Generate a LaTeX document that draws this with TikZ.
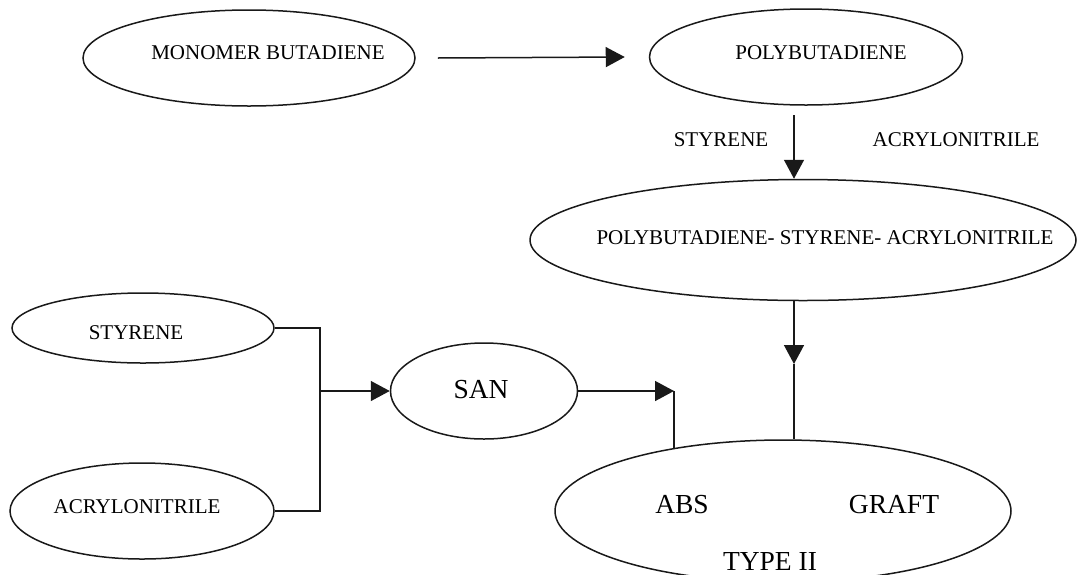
\documentclass[tikz,border=0pt]{standalone}
\usepackage{fontspec}
\setmainfont{Liberation Serif}
\usetikzlibrary{arrows.meta, shapes.geometric}
\colorlet{Cline}{black!90}
\tikzset{
  blob/.style={draw=Cline, ellipse, line width=1.5pt, inner sep=0pt},
  tag/.style={font=\fontsize{21}{24}\selectfont, inner sep=0pt},
  bigtag/.style={font=\fontsize{27.5}{30}\selectfont, inner sep=0pt},
  arr/.style={-{Triangle[length=19pt, width=20pt]}, line width=1.5pt, Cline},
  wire/.style={line width=1.5pt, Cline},
}

\begin{document}
\begin{tikzpicture}[x=1pt, y=-1pt]
\useasboundingbox (0,0) rectangle (1078,574);

%%==========================================================================
%% TOP ROW — butadiene to the graft rubber
%%==========================================================================

\node[blob, minimum width=332pt, minimum height=96pt] (mono) at (249,58) {};
\node[tag] (tmono) at (268,53) {MONOMER BUTADIENE};

\node[blob, minimum width=313pt, minimum height=96pt] (poly) at (806,57) {};
\node[tag] (tpoly) at (821,53) {POLYBUTADIENE};

\node[blob, minimum width=546pt, minimum height=121pt] (psa) at (803,240) {};
\node[tag] (tpsa) at (825,238) {POLYBUTADIENE- STYRENE- ACRYLONITRILE};

\node[tag] (lsty) at (721,140) {STYRENE};
\node[tag] (lacr) at (956,140) {ACRYLONITRILE};

%%==========================================================================
%% LEFT SIDE — styrene + acrylonitrile to SAN
%%==========================================================================

\node[blob, minimum width=262pt, minimum height=70pt] (sty) at (143,328) {};
\node[tag] (tsty) at (136,333) {STYRENE};

\node[blob, minimum width=264pt, minimum height=96pt] (acr) at (142,511) {};
\node[tag] (tacr) at (137,507) {ACRYLONITRILE};

\node[blob, minimum width=187pt, minimum height=96pt] (san) at (484,391) {};
\node[bigtag] (tsan) at (481,390) {SAN};

%%==========================================================================
%% PRODUCT — ABS graft, type II
%%==========================================================================

\node[blob, minimum width=456pt, minimum height=142pt] (abs) at (783,511) {};
\node[bigtag] (tabs) at (682,505) {ABS};
\node[bigtag] (tgraft) at (894,505) {GRAFT};
\node[bigtag] (ttype) at (770,561) {TYPE II};

%%==========================================================================
%% CONNECTORS
%%==========================================================================

\coordinate (c1) at (794,115);
\coordinate (mid) at (794,364);
\coordinate (join) at (320,391);
\coordinate (turn) at (674,391);

\draw[arr] ([xshift=22pt]mono.east) -- ([xshift=-24pt]poly.west);
\draw[arr] (c1) -- (c1 |- psa.north);

\draw[arr] (mid |- psa.south) -- (mid);
\draw[wire] (mid) -- (mid |- abs.north);

\draw[wire] (sty.east) -| (join) |- (acr.east);
\draw[arr] (join) -- (san.west);

\draw[arr] (san.east) -- (turn);
\draw[wire] (turn) -- (turn |- abs.150);

\end{tikzpicture}
\end{document}
